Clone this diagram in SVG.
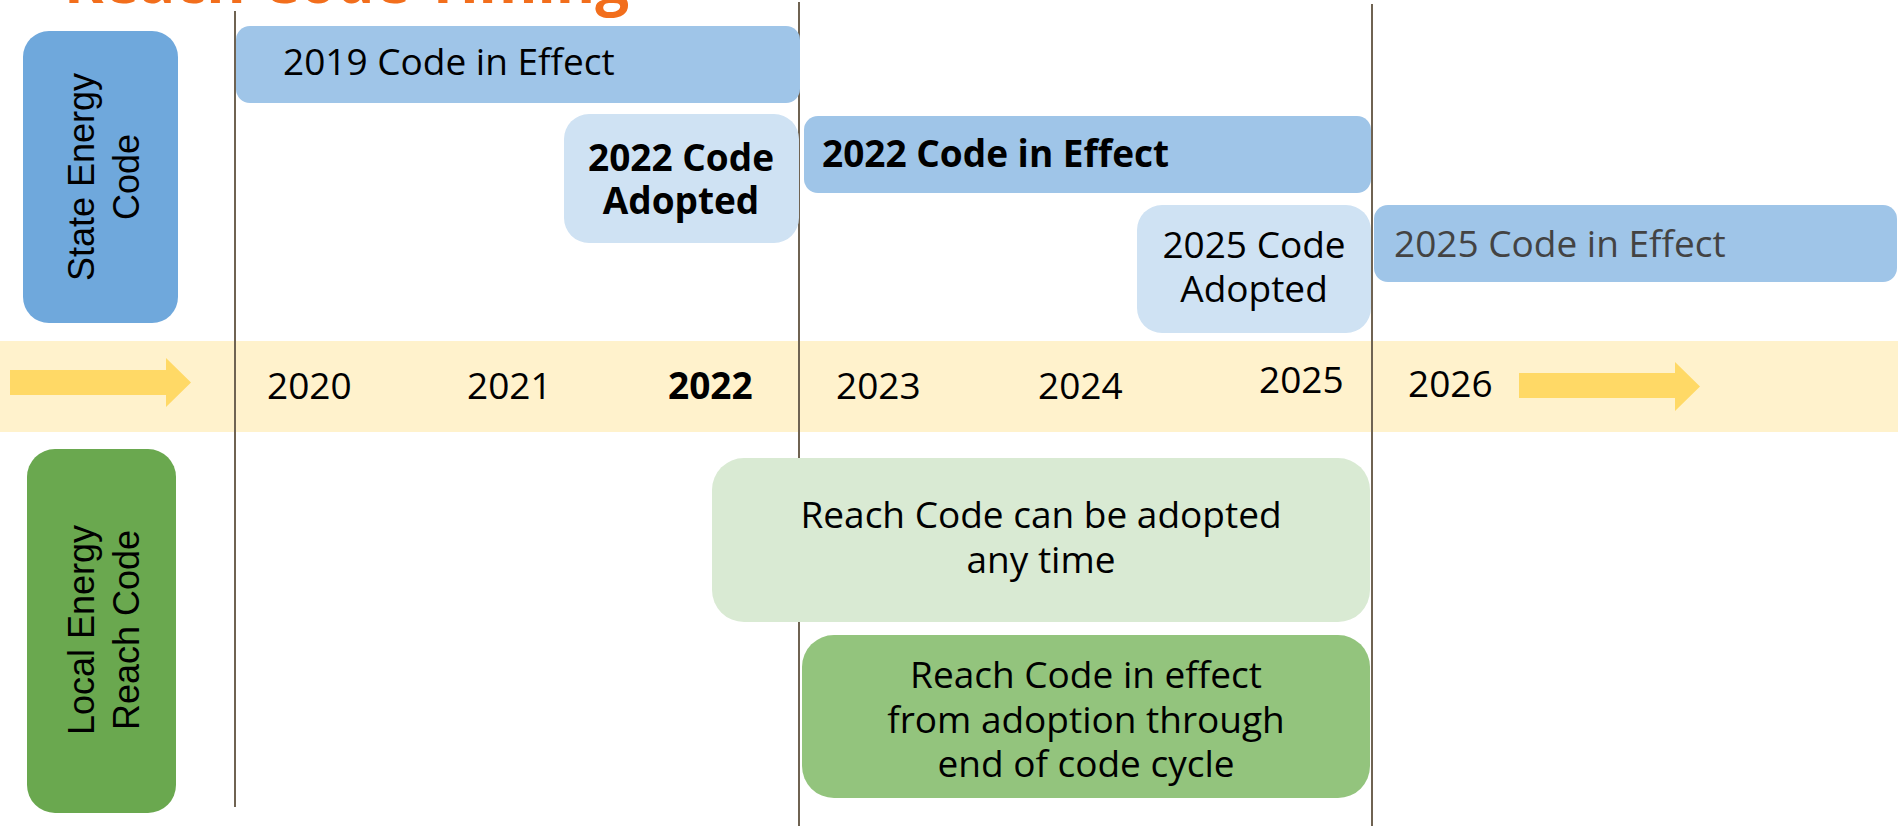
<svg xmlns="http://www.w3.org/2000/svg" width="1898" height="826" viewBox="0 0 1898 826">
<style>
.t{font-family:"Open Sans","Noto Sans","Liberation Sans",sans-serif;font-size:37px;fill:#000}
.b{font-weight:bold}
.c{text-anchor:middle}
.r{font-family:"Liberation Sans",Arial,sans-serif;font-size:36px;fill:#000;text-anchor:middle}
.div{stroke:#6f6352;stroke-width:2;fill:none}
.arr{fill:#ffd966}
</style>
<rect width="1898" height="826" fill="#ffffff"/>
<g id="title">
<text x="64" y="3" style="font-family:'Open Sans','Noto Sans',sans-serif;font-size:60px;font-weight:bold;fill:#f26e1c">Reach Code Timing</text>
</g>
<g id="timeline-band">
<rect x="0" y="341" width="1898" height="91" fill="#fff2cc"/>
<path class="arr" d="M10,370 H166 V358 L191,382.5 L166,407 V395 H10 Z"/>
<path class="arr" d="M1519,373 H1675 V362 L1700,386.5 L1675,411 V398 H1519 Z"/>
</g>
<g id="connectors">
<line class="div" x1="235" y1="11" x2="235" y2="807"/>
<line class="div" x1="799" y1="2" x2="799" y2="826"/>
<line class="div" x1="1372" y1="4" x2="1372" y2="826"/>
</g>
<g id="years">
<text class="t" x="267" y="399">2020</text>
<text class="t" x="467" y="399">2021</text>
<text class="t b" x="668" y="399">2022</text>
<text class="t" x="836" y="399">2023</text>
<text class="t" x="1038" y="399">2024</text>
<text class="t" x="1259" y="393">2025</text>
<text class="t" x="1408" y="397">2026</text>
</g>
<g id="state-energy-code">
<rect x="23" y="31" width="155" height="292" rx="26" fill="#6fa8dc"/>
<text class="r" transform="translate(94,177) rotate(-90)">State Energy</text>
<text class="r" transform="translate(139,177) rotate(-90)">Code</text>
</g>
<g id="local-energy-reach-code">
<rect x="27" y="449" width="149" height="364" rx="28" fill="#6aa84f"/>
<text class="r" transform="translate(94,630) rotate(-90)">Local Energy</text>
<text class="r" transform="translate(139,630) rotate(-90)">Reach Code</text>
</g>
<g id="code-2019-in-effect">
<rect x="236" y="26" width="564" height="77" rx="14" fill="#9fc5e8"/>
<text class="t" x="283" y="75">2019 Code in Effect</text>
</g>
<g id="code-2022-adopted">
<rect x="564" y="114" width="235" height="129" rx="25" fill="#cfe2f3"/>
<text class="t b c" x="681" y="171">2022 Code</text>
<text class="t b c" x="681" y="214">Adopted</text>
</g>
<g id="code-2022-in-effect">
<rect x="804" y="116" width="567" height="77" rx="14" fill="#9fc5e8"/>
<text class="t b" x="822" y="167">2022 Code in Effect</text>
</g>
<g id="code-2025-adopted">
<rect x="1137" y="205" width="234" height="128" rx="25" fill="#cfe2f3"/>
<text class="t c" x="1254" y="258">2025 Code</text>
<text class="t c" x="1254" y="302">Adopted</text>
</g>
<g id="code-2025-in-effect">
<rect x="1374" y="205" width="523" height="77" rx="14" fill="#9fc5e8"/>
<text class="t" x="1394" y="257" style="fill:#434343">2025 Code in Effect</text>
</g>
<g id="reach-adopt-any-time">
<rect x="712" y="458" width="658" height="164" rx="32" fill="#d9ead3"/>
<text class="t c" x="1041" y="528">Reach Code can be adopted</text>
<text class="t c" x="1041" y="573">any time</text>
</g>
<g id="reach-in-effect">
<rect x="802" y="635" width="568" height="163" rx="32" fill="#93c47d"/>
<text class="t c" x="1086" y="688">Reach Code in effect</text>
<text class="t c" x="1086" y="733">from adoption through</text>
<text class="t c" x="1086" y="777">end of code cycle</text>
</g>
</svg>
